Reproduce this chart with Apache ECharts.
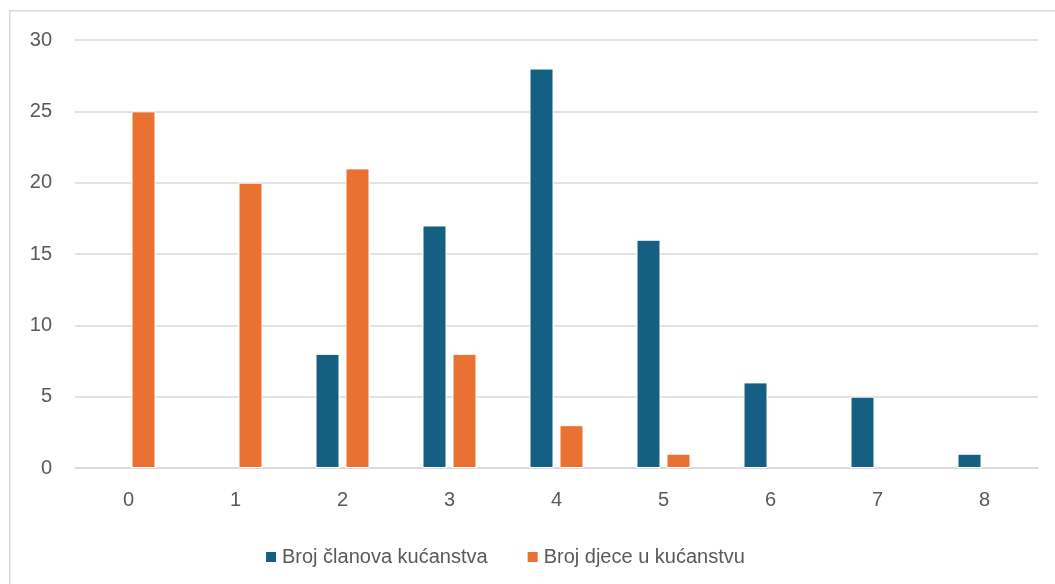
<!DOCTYPE html>
<html>
<head>
<meta charset="utf-8">
<script src="https://cdn.jsdelivr.net/npm/echarts@6/dist/echarts.min.js"></script>
<style>
html,body{margin:0;padding:0;background:#fff;}
#chart{width:1055px;height:584px;}
</style>
</head>
<body>
<div id="chart"></div>
<script>
const categories = ['0','1','2','3','4','5','6','7','8'];
const clanovi = [null, null, 8, 17, 28, 16, 6, 5, 1];
const djeca = [25, 20, 21, 8, 3, 1, null, null, null];
const seriesNames = ['Broj članova kućanstva', 'Broj djece u kućanstvu'];

const chart = echarts.init(document.getElementById('chart'), null, {renderer: 'canvas'});
const font = '"Liberation Sans", Arial, sans-serif';
chart.setOption({
  animation: false,
  backgroundColor: '#ffffff',
  graphic: [{
    type: 'rect', left: 9, top: 10, z: -10, silent: true,
    shape: {width: 1080, height: 620},
    style: {fill: '#ffffff', stroke: '#d9d9d9', lineWidth: 1.5}
  }],
  grid: {left: 75, right: 17, top: 40, bottom: 116, containLabel: false},
  legend: {
    left: 264, top: 547, padding: 0,
    itemWidth: 12, itemHeight: 12, itemGap: 38,
    icon: 'rect',
    textStyle: {fontFamily: font, fontSize: 20, color: '#595959'},
    data: seriesNames
  },
  xAxis: {
    type: 'category',
    data: categories,
    axisLine: {show: true, lineStyle: {color: '#d9d9d9', width: 1.5}},
    axisTick: {show: false},
    axisLabel: {fontFamily: font, fontSize: 20, color: '#595959', margin: 22}
  },
  yAxis: {
    type: 'value',
    min: 0, max: 30, interval: 5,
    axisLine: {show: false},
    axisTick: {show: false},
    splitLine: {lineStyle: {color: '#d9d9d9', width: 1.5}},
    axisLabel: {fontFamily: font, fontSize: 20, color: '#595959', margin: 23}
  },
  series: [
    {
      name: seriesNames[0], type: 'bar', data: clanovi,
      barWidth: 24, barGap: '25%',
      itemStyle: {color: '#156082', borderColor: '#ffffff', borderWidth: 1}
    },
    {
      name: seriesNames[1], type: 'bar', data: djeca,
      barWidth: 24, barGap: '25%',
      itemStyle: {color: '#E97132', borderColor: '#ffffff', borderWidth: 1}
    }
  ]
});
</script>
</body>
</html>
